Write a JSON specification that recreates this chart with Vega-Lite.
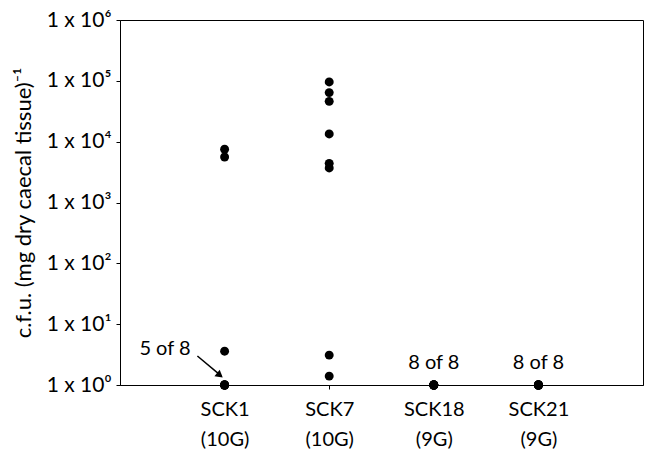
{
  "$schema": "https://vega.github.io/schema/vega-lite/v6.json",
  "autosize": "none",
  "width": 523,
  "height": 365,
  "padding": {"left": 120, "top": 20, "right": 3, "bottom": 69},
  "background": "white",
  "config": {
    "view": {"stroke": "black", "strokeWidth": 1},
    "font": "Lato",
    "axis": {"grid": false, "domainColor": "black", "tickColor": "black", "labelColor": "black", "titleColor": "black", "labelFont": "Lato", "titleFont": "Lato"}
  },
  "datasets": {
    "pts": [
      {"pos": 1, "value": 7500},
      {"pos": 1, "value": 5600},
      {"pos": 1, "value": 3.6},
      {"pos": 1, "value": 1},
      {"pos": 1, "value": 1},
      {"pos": 1, "value": 1},
      {"pos": 1, "value": 1},
      {"pos": 1, "value": 1},
      {"pos": 2, "value": 96000},
      {"pos": 2, "value": 64000},
      {"pos": 2, "value": 46000},
      {"pos": 2, "value": 13400},
      {"pos": 2, "value": 4400},
      {"pos": 2, "value": 3700},
      {"pos": 2, "value": 3.1},
      {"pos": 2, "value": 1.4},
      {"pos": 3, "value": 1},
      {"pos": 3, "value": 1},
      {"pos": 3, "value": 1},
      {"pos": 3, "value": 1},
      {"pos": 3, "value": 1},
      {"pos": 3, "value": 1},
      {"pos": 3, "value": 1},
      {"pos": 3, "value": 1},
      {"pos": 4, "value": 1},
      {"pos": 4, "value": 1},
      {"pos": 4, "value": 1},
      {"pos": 4, "value": 1},
      {"pos": 4, "value": 1},
      {"pos": 4, "value": 1},
      {"pos": 4, "value": 1},
      {"pos": 4, "value": 1}
    ],
    "notes": [
      {"pos": 0.43, "value": 3.9, "label": "5 of 8"},
      {"pos": 3.0, "value": 2.3, "label": "8 of 8"},
      {"pos": 4.0, "value": 2.3, "label": "8 of 8"}
    ],
    "arrow": [
      {"pos": 0.74, "value": 3.0, "pos2": 0.97, "value2": 1.4}
    ],
    "head": [
      {"pos": 0.955, "value": 1.45}
    ]
  },
  "layer": [
    {
      "data": {"name": "pts"},
      "mark": {"type": "circle", "size": 80, "opacity": 1, "color": "black"},
      "encoding": {
        "x": {
          "field": "pos", "type": "quantitative",
          "scale": {"domain": [0, 5], "nice": false, "zero": false},
          "axis": {
            "values": [1, 2, 3, 4],
            "title": null,
            "labelExpr": "datum.value == 1 ? ['SCK1', '(10G)'] : datum.value == 2 ? ['SCK7', '(10G)'] : datum.value == 3 ? ['SCK18', '(9G)'] : ['SCK21', '(9G)']",
            "labelFontSize": 20,
            "labelLineHeight": 30,
            "labelPadding": 10,
            "tickSize": 4,
            "labelBaseline": "top"
          }
        },
        "y": {
          "field": "value", "type": "quantitative",
          "scale": {"type": "log", "domain": [1, 1000000], "nice": false},
          "axis": {
            "values": [1, 10, 100, 1000, 10000, 100000, 1000000],
            "labelExpr": "'1 x 10' + ['⁰','¹','²','³','⁴','⁵','⁶'][round(log(datum.value)/LN10)]",
            "labelFontSize": 21,
            "labelPadding": 5,
            "tickSize": 4,
            "title": "c.f.u. (mg dry caecal tissue)⁻¹",
            "titleFontSize": 22,
            "titleFontWeight": "normal",
            "titlePadding": 11
          }
        }
      }
    },
    {
      "data": {"name": "notes"},
      "mark": {"type": "text", "fontSize": 20, "color": "black", "baseline": "middle", "align": "center"},
      "encoding": {
        "x": {"field": "pos", "type": "quantitative"},
        "y": {"field": "value", "type": "quantitative"},
        "text": {"field": "label"}
      }
    },
    {
      "data": {"name": "arrow"},
      "mark": {"type": "rule", "color": "black", "strokeWidth": 1.5},
      "encoding": {
        "x": {"field": "pos", "type": "quantitative"},
        "y": {"field": "value", "type": "quantitative"},
        "x2": {"field": "pos2"},
        "y2": {"field": "value2"}
      }
    },
    {
      "data": {"name": "head"},
      "mark": {"type": "point", "shape": "triangle-up", "filled": true, "color": "black", "size": 70, "angle": 129, "opacity": 1},
      "encoding": {
        "x": {"field": "pos", "type": "quantitative"},
        "y": {"field": "value", "type": "quantitative"}
      }
    }
  ]
}
